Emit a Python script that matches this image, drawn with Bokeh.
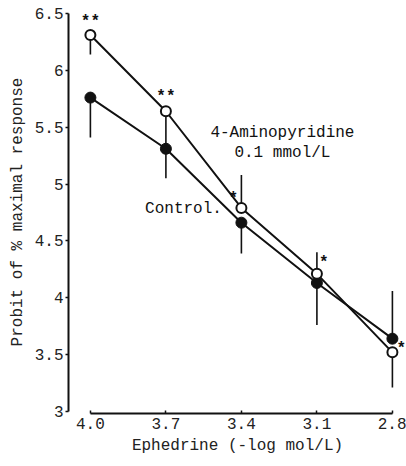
from bokeh.plotting import figure
from bokeh.models import Range1d, FixedTicker, CustomJSTickFormatter, Label
from bokeh.embed import file_html
from bokeh.resources import INLINE

# ---- data ----
doses = [4.0, 3.7, 3.4, 3.1, 2.8]
amino = [6.31, 5.64, 4.79, 4.21, 3.52]
amino_bar_end = [6.14, 5.32, 5.08, 4.40, 3.21]
control = [5.76, 5.31, 4.66, 4.13, 3.64]
control_bar_end = [5.41, 5.05, 4.39, 3.76, 4.06]
amino_sig = ["**", "**", "*", "*", "*"]
x_ticks = [4.0, 3.7, 3.4, 3.1, 2.8]
y_ticks = [3, 3.5, 4, 4.5, 5, 5.5, 6, 6.5]

FONT = "Liberation Mono"

p = figure(width=406, height=466, output_backend="svg", toolbar_location=None,
           x_range=Range1d(4.087, 2.744), y_range=Range1d(2.982, 6.526),
           min_border_left=68, min_border_right=0, min_border_top=10, min_border_bottom=53)
p.outline_line_color = None
p.xgrid.visible = False
p.ygrid.visible = False
p.background_fill_color = "white"
p.border_fill_color = "white"

# axes
p.xaxis.ticker = FixedTicker(ticks=x_ticks)
p.xaxis.formatter = CustomJSTickFormatter(code="return tick.toFixed(1);")
p.xaxis.bounds = (min(x_ticks), max(x_ticks))
p.xaxis.axis_label = "Ephedrine (-log mol/L)"
p.xaxis.major_tick_in = 3
p.xaxis.major_tick_out = 0
p.xaxis.minor_tick_line_color = None
p.xaxis.major_label_standoff = 4
p.xaxis.axis_label_standoff = 5

p.yaxis.ticker = FixedTicker(ticks=y_ticks)
p.yaxis.formatter = CustomJSTickFormatter(code="return (tick % 1 === 0) ? tick.toFixed(0) : tick.toFixed(1);")
p.yaxis.bounds = (min(y_ticks), max(y_ticks))
p.yaxis.axis_label = "Probit of % maximal response"
p.yaxis.major_tick_in = 0
p.yaxis.major_tick_out = 3
p.yaxis.minor_tick_line_color = None
p.yaxis.major_label_standoff = 2
p.yaxis.axis_label_standoff = 5

for ax in (p.xaxis, p.yaxis):
    ax.axis_line_width = 2
    ax.axis_line_color = "#111111"
    ax.major_tick_line_color = "#111111"
    ax.major_tick_line_width = 1.5
    ax.major_label_text_font = FONT
    ax.major_label_text_font_size = "16px"
    ax.major_label_text_color = "#222222"
    ax.axis_label_text_font = FONT
    ax.axis_label_text_font_size = "16px"
    ax.axis_label_text_font_style = "normal"
    ax.axis_label_text_color = "#222222"

# error bars (one-sided)
p.segment(x0=doses, y0=control, x1=doses, y1=control_bar_end, line_color="#111111", line_width=1.6)
p.segment(x0=doses, y0=amino, x1=doses, y1=amino_bar_end, line_color="#111111", line_width=1.6)

# lines
p.line(doses, control, line_color="#111111", line_width=2)
p.line(doses, amino, line_color="#111111", line_width=2)

# markers
p.scatter(doses, control, size=11, marker="circle", fill_color="#111111", line_color="#111111")
p.scatter(doses, amino, size=10, marker="circle", fill_color="white", line_color="#111111", line_width=2)

# significance marks
offsets = [(0, 13), (0, 14), (-8, 9), (7, 11), (9, 3)]
for xv, yv, s, (dx, dy) in zip(doses, amino, amino_sig, offsets):
    p.add_layout(Label(x=xv, y=yv, text=s, x_offset=dx, y_offset=dy,
                       text_align="center", text_baseline="middle",
                       text_font=FONT, text_font_size="16px", text_font_style="bold",
                       text_color="#111111"))

# series labels
for txt, xv, yv in [("4-Aminopyridine", 3.237, 5.445), ("0.1 mmol/L", 3.237, 5.27), ("Control.", 3.63, 4.78)]:
    p.add_layout(Label(x=xv, y=yv, text=txt, text_align="center", text_baseline="middle",
                       text_font=FONT, text_font_size="16px", text_color="#111111"))

open("out.html", "w").write(file_html(p, INLINE))
